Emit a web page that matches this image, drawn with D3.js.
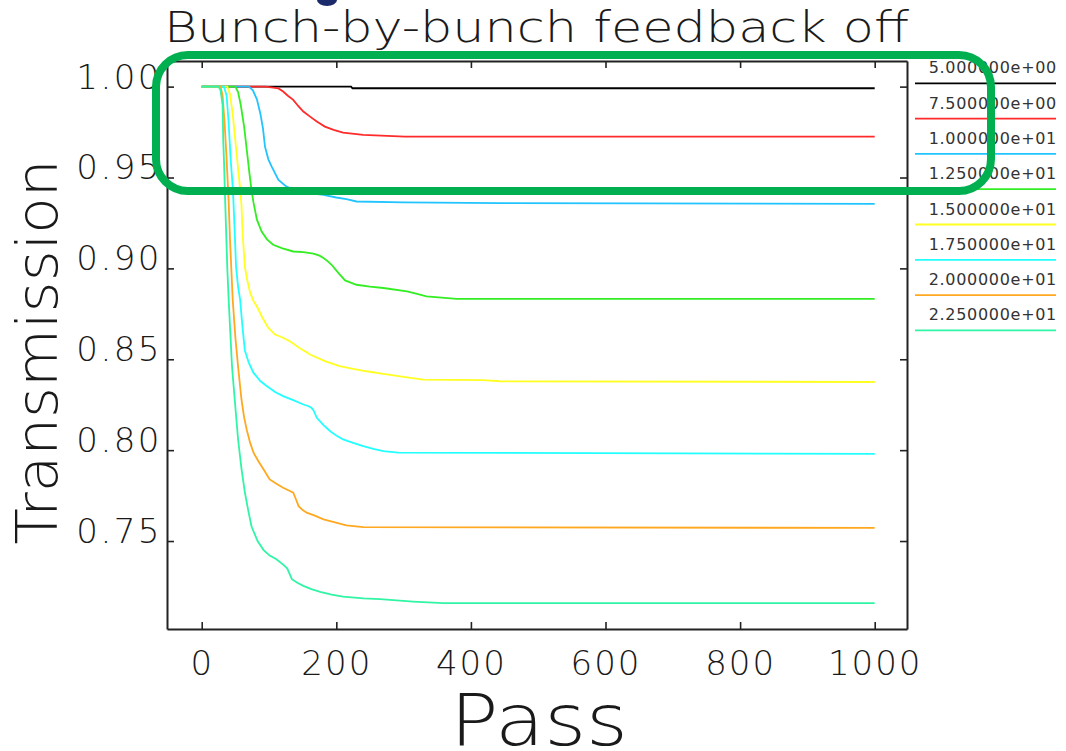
<!DOCTYPE html>
<html>
<head>
<meta charset="utf-8">
<script src="https://cdn.jsdelivr.net/npm/d3@7/dist/d3.min.js"></script>
<style>
  html, body { margin: 0; padding: 0; background: #fff; }
  svg { display: block; }
</style>
</head>
<body>
<svg id="chart" width="1066" height="751"></svg>
<script>
// ---- data ---------------------------------------------------------------
const seriesLabels = ["5.000000e+00", "7.500000e+00", "1.000000e+01", "1.250000e+01",
                      "1.500000e+01", "1.750000e+01", "2.000000e+01", "2.250000e+01"];
const seriesColors = ["#000000", "#ff2a2a", "#22c4ff", "#33ee22",
                      "#ffff22", "#22ffff", "#ffa820", "#30f5a5"];

// [pass, transmission]
const s5p0 = [[0,1],[222,1],[224,0.9991],[1000,0.9991]];
const s7p5 = [[0,1],[95,1],[106,0.9995],[114,0.999],[121,0.9973],[128,0.995],[136,0.9927],
  [143,0.9895],[151,0.9863],[161,0.9835],[171,0.9808],[183,0.978],[196,0.9762],[210,0.9747],
  [240,0.9735],[302,0.9725],[1000,0.9725]];
const s10p0 = [[0,1],[70,1],[76,0.998],[82,0.993],[87,0.9854],[91,0.977],[94,0.967],[99,0.96],
  [104,0.956],[114,0.9487],[126,0.945],[136,0.9435],[146,0.9423],[163,0.9413],[181,0.9405],
  [200,0.939],[215,0.9381],[230,0.9368],[300,0.9363],[443,0.9359],[1000,0.9355]];
const s12p5 = [[0,1],[50,1],[54,0.997],[58,0.99],[63,0.978],[67,0.965],[71,0.952],[74,0.943],
  [77,0.936],[82,0.9268],[89,0.9203],[97,0.916],[106,0.913],[120,0.911],[136,0.9093],
  [151,0.909],[166,0.9081],[175,0.907],[181,0.9057],[187,0.904],[193,0.902],[203,0.8975],
  [213,0.8934],[230,0.891],[250,0.89],[270,0.8892],[305,0.8874],[320,0.886],[334,0.8846],
  [379,0.8832],[1000,0.8832]];
const s15p0 = [[0,1],[38,1],[42,0.996],[46,0.985],[50,0.97],[54,0.955],[57,0.944],[59,0.935],
  [61,0.918],[64,0.901],[68,0.893],[72,0.8865],[77,0.882],[82,0.879],[90,0.873],[99,0.8672],
  [109,0.8636],[120,0.862],[131,0.8599],[146,0.856],[161,0.8526],[183,0.849],[205,0.8462],
  [225,0.8447],[245,0.8434],[270,0.842],[300,0.8403],[329,0.8388],[418,0.8385],[443,0.8379],
  [1000,0.8375]];
const s17p5 = [[0,1],[33,1],[37,0.995],[40,0.98],[43,0.96],[46,0.945],[47,0.938],[49,0.92],
  [51,0.901],[54,0.89],[57,0.883],[60,0.87],[64,0.855],[70,0.848],[77,0.8425],[87,0.838],
  [97,0.8352],[109,0.832],[121,0.8297],[136,0.8275],[151,0.8251],[158,0.8243],[163,0.8233],
  [166,0.822],[171,0.8178],[181,0.8138],[191,0.8104],[200,0.808],[210,0.8059],[225,0.804],
  [240,0.8022],[255,0.8007],[270,0.7995],[292,0.7986],[1000,0.798]];
const s20p0 = [[0,1],[28,1],[31,0.995],[34,0.98],[37,0.96],[40,0.937],[42,0.916],[46,0.883],
  [50,0.862],[54,0.846],[59,0.828],[63,0.818],[67,0.811],[72,0.804],[77,0.7986],[84,0.794],
  [92,0.7894],[101,0.7839],[111,0.7815],[121,0.7793],[131,0.7775],[136,0.7766],[140,0.773],
  [144,0.7692],[150,0.767],[156,0.7656],[168,0.764],[181,0.7619],[198,0.7602],[215,0.7586],
  [240,0.7577],[1000,0.7572]];
const s22p5 = [[0,1],[25,1],[28,0.998],[31,0.99],[32,0.97],[33,0.96],[35,0.935],[38,0.9],
  [40,0.883],[45,0.846],[49,0.828],[54,0.806],[59,0.79],[64,0.777],[69,0.767],[74,0.758],
  [83,0.75],[92,0.745],[101,0.742],[111,0.74],[121,0.737],[127,0.735],[134,0.729],[142,0.727],
  [151,0.7253],[163,0.7235],[176,0.722],[193,0.7205],[210,0.7194],[240,0.7185],[265,0.718],
  [314,0.7167],[359,0.7158],[1000,0.7158]];
const seriesData = [s5p0, s7p5, s10p0, s12p5, s15p0, s17p5, s20p0, s22p5];

const xTicks = [0, 200, 400, 600, 800, 1000];
const yTicks = [0.75, 0.80, 0.85, 0.90, 0.95, 1.00];

// ---- layout -------------------------------------------------------------
const svg = d3.select("#chart");
const plot = { left: 167, right: 907, top: 61, bottom: 629 };

const x = d3.scaleLinear().domain([-51.6, 1048]).range([plot.left, plot.right]);
const y = d3.scaleLinear().domain([0.7016, 1.0141]).range([plot.bottom, plot.top]);

// thin stroke lettering for titles and tick labels
const thinText = sel => sel
  .attr("font-family", "DejaVu Sans, sans-serif")
  .attr("font-weight", 200)
  .attr("fill", "#1a1a1a");

// title
svg.append("text")
  .attr("x", 164).attr("y", 42)
  .attr("font-size", 43)
  .attr("textLength", 745).attr("lengthAdjust", "spacingAndGlyphs")
  .call(thinText)
  .text("Bunch-by-bunch feedback off");

// fragment of slide heading above the chart
svg.append("ellipse")
  .attr("cx", 327).attr("cy", 0).attr("rx", 10).attr("ry", 6)
  .attr("fill", "#1b2a6b");

// ---- series -------------------------------------------------------------
const line = d3.line().x(d => x(d[0])).y(d => y(d[1]));
svg.append("g").selectAll("path")
  .data(seriesData)
  .join("path")
  .attr("d", line)
  .attr("fill", "none")
  .attr("stroke", (d, i) => seriesColors[i])
  .attr("stroke-width", 1.8);

// ---- axes / frame -------------------------------------------------------
function styleAxis(g) {
  g.select(".domain").attr("stroke", "#222").attr("stroke-width", 2);
  g.selectAll(".tick line").attr("stroke", "#222").attr("stroke-width", 1.6);
}

const gx = svg.append("g").attr("transform", `translate(0,${plot.bottom})`)
  .call(d3.axisBottom(x).tickValues(xTicks).tickSizeInner(-7).tickSizeOuter(0)
    .tickFormat(d3.format("d")))
  .call(styleAxis);
gx.selectAll(".tick text")
  .attr("y", 46).attr("dy", 0)
  .attr("font-size", 34).attr("letter-spacing", 2)
  .call(thinText);

const gy = svg.append("g").attr("transform", `translate(${plot.left},0)`)
  .call(d3.axisLeft(y).tickValues(yTicks).tickSizeInner(-7).tickSizeOuter(0)
    .tickPadding(5).tickFormat(d3.format(".2f")))
  .call(styleAxis);
gy.selectAll(".tick text")
  .attr("dy", "0.04em")
  .attr("font-size", 34).attr("letter-spacing", 2.5)
  .call(thinText);

svg.append("g").attr("transform", `translate(0,${plot.top})`)
  .call(d3.axisTop(x).tickValues(xTicks).tickSizeInner(-7).tickSizeOuter(0).tickFormat(""))
  .call(styleAxis);
svg.append("g").attr("transform", `translate(${plot.right},0)`)
  .call(d3.axisRight(y).tickValues(yTicks).tickSizeInner(-7).tickSizeOuter(0).tickFormat(""))
  .call(styleAxis);

// axis titles
svg.append("text")
  .attr("transform", "translate(57,352) rotate(-90)")
  .attr("text-anchor", "middle")
  .attr("font-size", 57)
  .attr("textLength", 385).attr("lengthAdjust", "spacingAndGlyphs")
  .call(thinText)
  .text("Transmission");

svg.append("text")
  .attr("x", 539).attr("y", 745)
  .attr("text-anchor", "middle")
  .attr("font-size", 72)
  .attr("textLength", 178).attr("lengthAdjust", "spacingAndGlyphs")
  .call(thinText)
  .text("Pass");

// ---- legend -------------------------------------------------------------
const legend = svg.append("g").selectAll("g")
  .data(seriesLabels)
  .join("g")
  .attr("transform", (d, i) => `translate(0,${83.3 + i * 35.3})`);
legend.append("line")
  .attr("x1", 915).attr("x2", 1056)
  .attr("stroke", (d, i) => seriesColors[i])
  .attr("stroke-width", 1.8);
legend.append("text")
  .attr("x", 1057).attr("y", -10)
  .attr("text-anchor", "end")
  .attr("font-family", "DejaVu Sans, sans-serif")
  .attr("font-size", 16)
  .attr("letter-spacing", 0.7)
  .attr("fill", "#333")
  .text(d => d);

// ---- highlight box ------------------------------------------------------
svg.append("rect")
  .attr("x", 156).attr("y", 55).attr("width", 835).attr("height", 136)
  .attr("rx", 32).attr("ry", 32)
  .attr("fill", "none")
  .attr("stroke", "#00b050")
  .attr("stroke-width", 8);
</script>
</body>
</html>
